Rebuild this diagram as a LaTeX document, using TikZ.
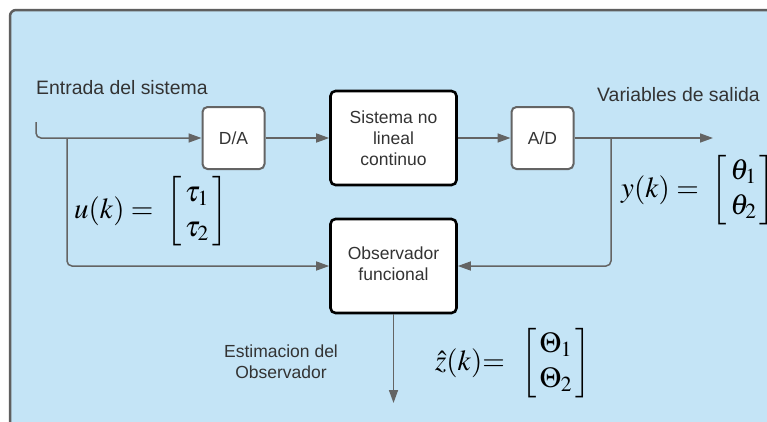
\documentclass[tikz,border=0pt]{standalone}
\usepackage{amsmath}
\usepackage{mathptmx}
\usepackage[no-math]{fontspec}
\setmainfont{Liberation Sans}
\usetikzlibrary{arrows.meta}
\definecolor{bg}{RGB}{196,228,246}
\definecolor{framec}{RGB}{95,95,95}
\definecolor{linec}{RGB}{100,100,100}
\definecolor{txt}{RGB}{51,51,51}
\tikzset{
  smallbox/.style={draw=linec, line width=2pt, fill=white, rounded corners=5pt,
    minimum width=62pt, minimum height=62pt, inner sep=0pt, text=txt,
    font=\fontsize{17.5}{21}\selectfont},
  bigbox/.style={draw=black, line width=2.6pt, fill=white, rounded corners=5pt,
    minimum width=126pt, minimum height=94pt, inner sep=0pt, text=txt, align=center,
    font=\fontsize{17.5}{21}\selectfont},
  conn/.style={draw=linec, line width=1.5pt, rounded corners=5pt,
    -{Triangle[length=13pt,width=9pt]}},
  lab/.style={text=txt, inner sep=0pt, font=\fontsize{17.5}{21}\selectfont},
  biglab/.style={text=txt, inner sep=0pt, font=\fontsize{19.4}{23}\selectfont},
  eqn/.style={text=black, inner sep=0pt, font=\fontsize{29}{35}\selectfont}
}
\begin{document}
\begin{tikzpicture}[x=1pt,y=-1pt]
\useasboundingbox (0,0) rectangle (767,421);
\fill[white] (0,0) rectangle (767,421);
\filldraw[fill=bg, draw=framec, line width=2.5pt, rounded corners=6pt] (10,10) rectangle (790,445);

\node[smallbox] (da) at (233.5,138) {D/A};
\node[bigbox] (sys) at (393.5,138) {Sistema no\\lineal\\continuo};
\node[smallbox] (ad) at (542.5,138) {A/D};
\node[bigbox] (obs) at (393.5,266) {\raisebox{4pt}{\begin{tabular}{@{}c@{}}Observador\\funcional\end{tabular}}};

\coordinate (in0) at (36,122);
\coordinate (bu) at (67,138);
\coordinate (by) at (611,138);
\coordinate (out) at (713,138);
\coordinate (zout) at (393.5,403);

\draw[conn] (in0) |- (da.west);
\draw[conn] (bu) |- (obs.west);
\draw[conn] (da) -- (sys);
\draw[conn] (sys) -- (ad);
\draw[conn] (ad) -- (out);
\draw[conn] (by) |- (obs.east);
\draw[conn] (obs) -- (zout);

\node[biglab, anchor=west] (entr) at (36,88) {Entrada del sistema};
\node[biglab, anchor=west] (vars) at (597,95) {Variables de salida};
\node[lab, align=center] (est) at (281,362) {Estimacion del\\Observador};

\node[eqn, anchor=west] (ueq) at (74,211.5) {$u(k) = \;\begin{bmatrix}\,\tau_1\,\\ \,\tau_2\,\end{bmatrix}$};
\node[eqn, anchor=west] (yeq) at (621,190) {$y(k) = \;\begin{bmatrix}\,\theta_1\,\\ \,\theta_2\,\end{bmatrix}$};
\node[eqn, anchor=west] (zeq) at (435,363) {$\hat{z}(k){=}\;\;\begin{bmatrix}\,\Theta_1\,\\ \,\Theta_2\,\end{bmatrix}$};
\end{tikzpicture}
\end{document}
